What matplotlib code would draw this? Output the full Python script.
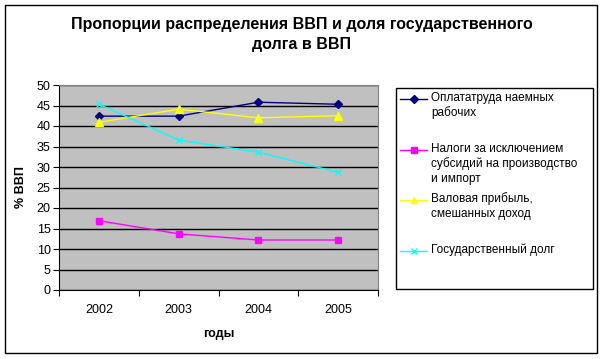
import matplotlib

matplotlib.use("Agg")

import matplotlib.pyplot as plt
from matplotlib.lines import Line2D
from matplotlib.patches import Rectangle

plt.rcParams["font.family"] = ["Liberation Sans", "DejaVu Sans"]

years = ["2002", "2003", "2004", "2005"]
labor = [42.4, 42.4, 45.8, 45.3]
taxes = [16.9, 13.7, 12.2, 12.2]
profit = [40.9, 44.1, 42.0, 42.5]
debt = [45.3, 36.6, 33.6, 28.7]

series_names = [
    "Оплататруда наемных\nрабочих",
    "Налоги за исключением\nсубсидий на производство\nи импорт",
    "Валовая прибыль,\nсмешанных доход",
    "Государственный долг",
]

W, H = 604, 359


def fx(px):
    return px / W


def fy(py):
    return 1 - py / H


fig = plt.figure(figsize=(W / 100, H / 100), dpi=100, facecolor="white")

# outer chart border
fig.patches.append(
    Rectangle((fx(5), fy(353)), fx(592), 348 / H, transform=fig.transFigure,
              fill=False, edgecolor="black", linewidth=1.0)
)

ax = fig.add_axes([fx(59), fy(290), fx(319), 205 / H])
ax.set_facecolor("#c0c0c0")

x = list(range(len(years)))
h1, = ax.plot(x, labor, color="#000080", marker="D", markersize=4.5, linewidth=1)
h2, = ax.plot(x, taxes, color="#ff00ff", marker="s", markersize=5, linewidth=1)
h3, = ax.plot(x, profit, color="#ffff00", marker="^", markersize=6, linewidth=1)
h4, = ax.plot(x, debt, color="#00ffff", marker="x", markersize=5, linewidth=1)

ax.set_xlim(-0.5, len(years) - 0.5)
ax.set_ylim(0, 50)
ax.set_yticks(range(0, 51, 5))
ax.set_xticks([i - 0.5 for i in range(len(years) + 1)])
ax.set_xticklabels([])
ax.set_xticks(x, minor=True)
ax.set_xticklabels(years, minor=True)
ax.tick_params(axis="x", which="minor", length=0, pad=10, labelsize=9)
ax.tick_params(axis="x", which="major", length=4, direction="out")
ax.tick_params(axis="y", length=4, labelsize=9, pad=2)
ax.yaxis.grid(True, color="black", linewidth=1)
ax.set_axisbelow(True)
for side in ("top", "right"):
    ax.spines[side].set_color("#808080")
ax.spines["left"].set_color("black")
ax.spines["bottom"].set_color("black")

ax.set_xlabel("годы", fontsize=9, fontweight="bold", labelpad=9)
ax.set_ylabel("% ВВП", fontsize=9, fontweight="bold", labelpad=7)

fig.text(0.5, fy(24), "Пропорции распределения ВВП и доля государственного",
         ha="center", va="center", fontsize=11.5, fontweight="bold")
fig.text(0.5, fy(45), "долга в ВВП",
         ha="center", va="center", fontsize=11.5, fontweight="bold")

# legend box, Excel style: sample line aligned with the first text line
fig.patches.append(
    Rectangle((fx(396), fy(289)), fx(197), 201 / H, transform=fig.transFigure,
              fill=False, edgecolor="black", linewidth=1.0)
)
first_line_y = [99, 150, 200, 251]
for h, name, ly in zip([h1, h2, h3, h4], series_names, first_line_y):
    fig.add_artist(Line2D(
        [fx(400), fx(427)], [fy(ly), fy(ly)], transform=fig.transFigure,
        color=h.get_color(), linewidth=1,
    ))
    fig.add_artist(Line2D(
        [fx(413.5)], [fy(ly)], transform=fig.transFigure,
        color=h.get_color(), linestyle="none", marker=h.get_marker(),
        markersize=h.get_markersize() * 0.8,
    ))
    fig.text(fx(431), fy(ly - 7.5), name, ha="left", va="top",
             fontsize=8.5, linespacing=1.27)

fig.savefig("out.png", dpi=100, facecolor="white")
